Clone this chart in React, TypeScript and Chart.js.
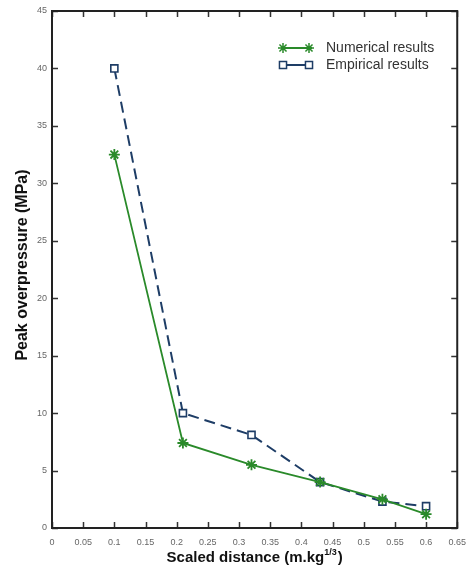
import React, { useEffect, useRef } from "react";
import { Chart, registerables } from "chart.js";
import { drawPoint } from "chart.js/helpers";

Chart.register(...registerables);

const xValues = [0.1, 0.21, 0.32, 0.43, 0.53, 0.6];
const numericalResults = [32.5, 7.4, 5.5, 4.0, 2.5, 1.2];
const empiricalResults = [40, 10, 8.1, 4.0, 2.3, 1.9];
const xTickLabels = ["0", "0.05", "0.1", "0.15", "0.2", "0.25", "0.3", "0.35", "0.4", "0.45", "0.5", "0.55", "0.6", "0.65"];
const yTickLabels = ["0", "5", "10", "15", "20", "25", "30", "35", "40", "45"];
const seriesNames = ["Numerical results", "Empirical results"];
const xTitle = "Scaled distance (m.kg";
const xTitleSup = "1/3";
const yTitle = "Peak overpressure (MPa)";

const GREEN = "#2a8a2a";
const NAVY = "#1e3d66";
const FONT = '"Liberation Sans", Arial, sans-serif';

const framePlugin = {
  id: "frame",
  afterDraw(chart: any) {
    const { ctx, chartArea: a, scales } = chart;
    const xs = scales.x;
    const ys = scales.y;
    ctx.save();
    ctx.strokeStyle = "#333";
    ctx.lineWidth = 1.5;
    const tl = 6;
    ctx.beginPath();
    xs.ticks.forEach((t: any) => {
      const px = Math.round(xs.getPixelForValue(t.value)) + 0.5;
      ctx.moveTo(px, a.bottom);
      ctx.lineTo(px, a.bottom - tl);
      ctx.moveTo(px, a.top);
      ctx.lineTo(px, a.top + tl);
    });
    ys.ticks.forEach((t: any) => {
      const py = Math.round(ys.getPixelForValue(t.value)) + 0.5;
      ctx.moveTo(a.left, py);
      ctx.lineTo(a.left + tl, py);
      ctx.moveTo(a.right, py);
      ctx.lineTo(a.right - tl, py);
    });
    ctx.stroke();
    ctx.strokeStyle = "#222";
    ctx.lineWidth = 2;
    ctx.strokeRect(a.left, a.top, a.right - a.left, a.bottom - a.top);

    // x title with superscript
    ctx.fillStyle = "#111";
    ctx.textBaseline = "alphabetic";
    ctx.textAlign = "left";
    const mainFont = "bold 15px " + FONT;
    const supFont = "bold 9px " + FONT;
    ctx.font = mainFont;
    const w1 = ctx.measureText(xTitle).width;
    const w3 = ctx.measureText(")").width;
    ctx.font = supFont;
    const w2 = ctx.measureText(xTitleSup).width;
    const cx = (a.left + a.right) / 2;
    let sx = cx - (w1 + w2 + w3 + 1) / 2;
    const by = 562;
    ctx.font = mainFont;
    ctx.fillText(xTitle, sx, by);
    sx += w1;
    ctx.font = supFont;
    ctx.fillText(xTitleSup, sx, by - 7);
    sx += w2 + 1;
    ctx.font = mainFont;
    ctx.fillText(")", sx, by);

    // y title
    ctx.save();
    ctx.translate(23, 265);
    ctx.rotate(-Math.PI / 2);
    ctx.textAlign = "center";
    ctx.textBaseline = "middle";
    ctx.font = "bold 16px " + FONT;
    ctx.fillText(yTitle, 0, 0);
    ctx.restore();

    // legend
    const rows = [
      { y: 48, color: GREEN, style: "star", bg: GREEN },
      { y: 65, color: NAVY, style: "rect", bg: "#ffffff" },
    ];
    rows.forEach((r, i) => {
      ctx.strokeStyle = r.color;
      ctx.lineWidth = 2;
      ctx.beginPath();
      ctx.moveTo(281, r.y);
      ctx.lineTo(312, r.y);
      ctx.stroke();
      [283, 309].forEach((px) => {
        ctx.strokeStyle = r.color;
        ctx.fillStyle = r.bg;
        ctx.lineWidth = 1.5;
        drawPoint(ctx, { pointStyle: r.style, radius: 5, rotation: 0, borderWidth: 1.5 } as any, px, r.y);
      });
      ctx.fillStyle = "#333";
      ctx.font = "14px " + FONT;
      ctx.textAlign = "left";
      ctx.textBaseline = "middle";
      ctx.fillText(seriesNames[i], 326, r.y);
    });
    ctx.restore();
  },
};

export default function App() {
  const ref = useRef<HTMLCanvasElement>(null);
  useEffect(() => {
    if (!ref.current) return;
    const chart = new Chart(ref.current, {
      type: "scatter",
      data: {
        datasets: [
          {
            label: seriesNames[0],
            data: xValues.map((x, i) => ({ x, y: numericalResults[i] })),
            showLine: true,
            borderColor: GREEN,
            backgroundColor: GREEN,
            borderWidth: 1.8,
            pointStyle: "star",
            pointRadius: 5.5,
            pointBorderWidth: 1.8,
            pointBorderColor: GREEN,
            order: 1,
          },
          {
            label: seriesNames[1],
            data: xValues.map((x, i) => ({ x, y: empiricalResults[i] })),
            showLine: true,
            borderColor: NAVY,
            backgroundColor: "#ffffff",
            borderWidth: 2,
            borderDash: [11, 6],
            pointStyle: "rect",
            pointRadius: 5,
            pointBorderWidth: 1.6,
            pointBorderColor: NAVY,
            pointBackgroundColor: "#ffffff",
            order: 2,
          },
        ],
      },
      options: {
        responsive: false,
        maintainAspectRatio: false,
        animation: false,
        layout: { padding: { top: 11, right: 10, left: 0, bottom: 0 }, autoPadding: false } as any,
        plugins: { legend: { display: false }, tooltip: { enabled: false } },
        scales: {
          x: {
            type: "linear",
            min: 0,
            max: 0.65,
            afterFit: (s: any) => { s.height = 42; },
            grid: { display: false, drawTicks: false },
            border: { display: false },
            ticks: {
              stepSize: 0.05,
              padding: 9,
              color: "#666",
              font: { family: FONT, size: 9 },
              maxRotation: 0,
              autoSkip: false,
              callback: (_v: any, i: number) => xTickLabels[i],
            },
          },
          y: {
            type: "linear",
            min: 0,
            max: 45,
            afterFit: (s: any) => { s.width = 52; },
            grid: { display: false, drawTicks: false },
            border: { display: false },
            ticks: {
              stepSize: 5,
              padding: 5,
              color: "#666",
              font: { family: FONT, size: 9 },
              autoSkip: false,
              callback: (_v: any, i: number) => yTickLabels[i],
            },
          },
        },
      },
      plugins: [framePlugin],
    });
    return () => chart.destroy();
  }, []);
  return (
    <div style={{ position: "fixed", left: 0, top: 0, width: 475, height: 570, background: "#fff" }}>
      <canvas ref={ref} width={475} height={570} style={{ display: "block" }} />
    </div>
  );
}
